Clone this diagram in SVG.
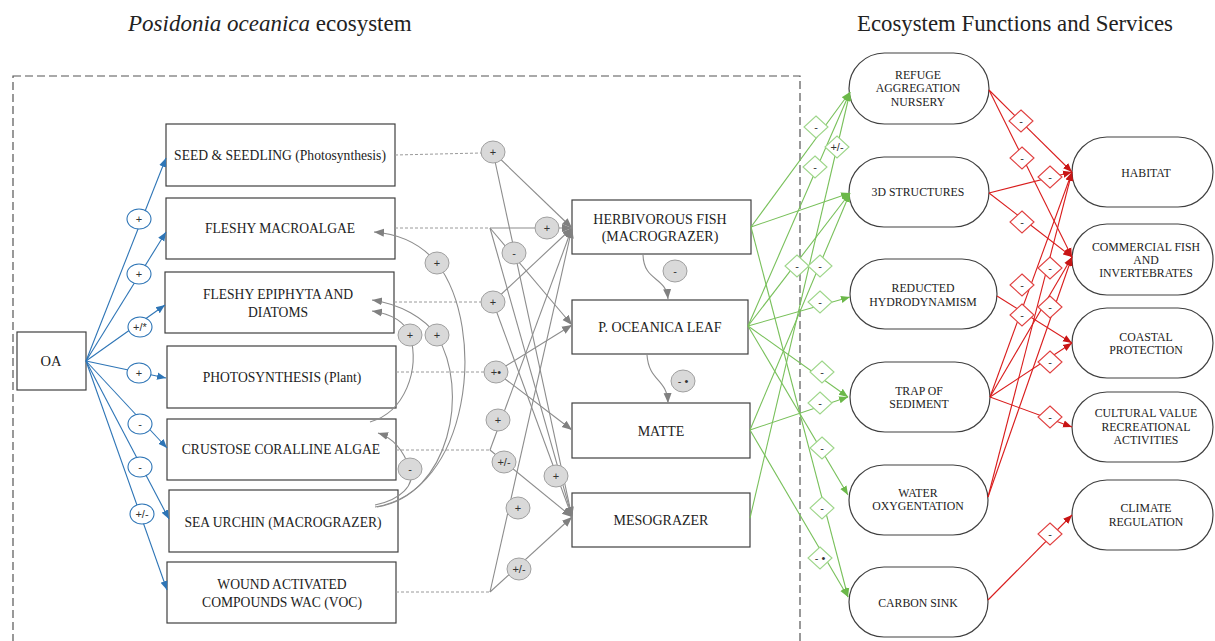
<svg xmlns="http://www.w3.org/2000/svg" xmlns:xlink="http://www.w3.org/1999/xlink" width="1215" height="641" viewBox="0 0 1215 641">
<style>
.t{font-family:"Liberation Serif","Times New Roman",serif;fill:#222;text-anchor:middle}
.lb{font-size:13.6px}
.mb{font-size:14px}
.sb{font-size:11.8px}
.box{fill:#fff;stroke:#404040;stroke-width:1.2}
.st{fill:#fff;stroke:#404040;stroke-width:1.2}
.bl{stroke:#2e75b6;stroke-width:1.1;fill:none}
.bc{fill:#fff;stroke:#2e75b6;stroke-width:1.1}
.gl{stroke:#8c8c8c;stroke-width:1.1;fill:none}
.gd{stroke:#9a9a9a;stroke-width:1;stroke-dasharray:3 2;fill:none}
.gc{fill:#d9d9d9;stroke:#a0a0a0;stroke-width:1}
.grl{stroke:#78c05a;stroke-width:1.1;fill:none}
.grd{fill:#fff;stroke:#9ed68a;stroke-width:1.1}
.rl{stroke:#d91c1c;stroke-width:1.1;fill:none}
.rd{fill:#fff;stroke:#e04040;stroke-width:1.1}
.s{font-family:"Liberation Sans",Arial,sans-serif;font-size:11px;fill:#333;text-anchor:middle}
</style>
<defs>
<marker id="mb" viewBox="0 0 10 10" refX="10" refY="5" markerWidth="9" markerHeight="9" orient="auto" markerUnits="userSpaceOnUse"><path d="M0,1 L10,5 L0,9 z" fill="#2e75b6"/></marker>
<marker id="mg" viewBox="0 0 10 10" refX="10" refY="5" markerWidth="10" markerHeight="10" orient="auto" markerUnits="userSpaceOnUse"><path d="M0,1 L10,5 L0,9 z" fill="#808080"/></marker>
<marker id="mgr" viewBox="0 0 10 10" refX="10" refY="5" markerWidth="9" markerHeight="9" orient="auto" markerUnits="userSpaceOnUse"><path d="M0,1 L10,5 L0,9 z" fill="#6cb84a"/></marker>
<marker id="mr" viewBox="0 0 10 10" refX="10" refY="5" markerWidth="9" markerHeight="9" orient="auto" markerUnits="userSpaceOnUse"><path d="M0,1 L10,5 L0,9 z" fill="#c81414"/></marker>
<polygon id="dia" points="0,-11 12,0 0,11 -12,0"/>
</defs>
<rect width="1215" height="641" fill="#fff"/>

<text class="t" x="128" y="31" font-size="23" style="text-anchor:start"><tspan font-style="italic">Posidonia oceanica</tspan> ecosystem</text>
<text class="t" x="857" y="31" font-size="22.8" style="text-anchor:start">Ecosystem Functions and Services</text>

<rect x="13" y="76" width="787" height="600" fill="none" stroke="#555" stroke-width="1.2" stroke-dasharray="8 4"/>

<g id="oa"><rect class="box" x="17" y="332" width="69" height="58"/><text class="t" x="51" y="366" font-size="14.5">OA</text></g>
<g id="seed"><rect class="box" x="166" y="124" width="229" height="62"/><text class="t lb" x="280" y="160">SEED &amp; SEEDLING (Photosynthesis)</text></g>
<g id="macroalgae"><rect class="box" x="166" y="198" width="229" height="61"/><text class="t lb" x="280" y="233">FLESHY MACROALGAE</text></g>
<g id="epiphyta"><rect class="box" x="165" y="272" width="229" height="61"/><text class="t lb" x="278" y="299">FLESHY EPIPHYTA AND</text><text class="t lb" x="278" y="317">DIATOMS</text></g>
<g id="photosynthesis"><rect class="box" x="167" y="346" width="229" height="62"/><text class="t lb" x="282" y="382">PHOTOSYNTHESIS  (Plant)</text></g>
<g id="crustose"><rect class="box" x="167" y="419" width="229" height="61"/><text class="t lb" x="281" y="454">CRUSTOSE CORALLINE ALGAE</text></g>
<g id="seaurchin"><rect class="box" x="169" y="490" width="229" height="62"/><text class="t lb" x="283" y="527">SEA URCHIN (MACROGRAZER)</text></g>
<g id="wac"><rect class="box" x="167" y="562" width="229" height="61"/><text class="t lb" x="282" y="589">WOUND ACTIVATED</text><text class="t lb" x="282" y="607">COMPOUNDS WAC (VOC)</text></g>

<g id="herbivorous"><rect class="box" x="572" y="200" width="179" height="54"/><text class="t mb" x="660" y="224">HERBIVOROUS FISH</text><text class="t mb" x="660" y="241">(MACROGRAZER)</text></g>
<g id="leaf"><rect class="box" x="572" y="300" width="176" height="54"/><text class="t mb" x="660" y="332">P. OCEANICA LEAF</text></g>
<g id="matte"><rect class="box" x="572" y="403" width="178" height="55"/><text class="t mb" x="661" y="436">MATTE</text></g>
<g id="mesograzer"><rect class="box" x="572" y="493" width="178" height="54"/><text class="t mb" x="661" y="525">MESOGRAZER</text></g>

<g id="refuge"><rect class="st" x="849" y="53" width="140" height="71" rx="35.5"/><text class="t sb" x="918" y="79">REFUGE</text><text class="t sb" x="918" y="92">AGGREGATION</text><text class="t sb" x="918" y="106">NURSERY</text></g>
<g id="structures"><rect class="st" x="849" y="157" width="140" height="70" rx="35"/><text class="t sb" x="918" y="196">3D STRUCTURES</text></g>
<g id="hydro"><rect class="st" x="850" y="259" width="147" height="70" rx="35"/><text class="t sb" x="923" y="292">REDUCTED</text><text class="t sb" x="923" y="306">HYDRODYNAMISM</text></g>
<g id="trap"><rect class="st" x="850" y="362" width="140" height="70" rx="35"/><text class="t sb" x="919" y="395">TRAP OF</text><text class="t sb" x="919" y="408">SEDIMENT</text></g>
<g id="water"><rect class="st" x="849" y="465" width="139" height="70" rx="35"/><text class="t sb" x="918" y="497">WATER</text><text class="t sb" x="918" y="510">OXYGENTATION</text></g>
<g id="carbon"><rect class="st" x="849" y="567" width="139" height="70" rx="35"/><text class="t sb" x="918" y="607">CARBON SINK</text></g>

<g id="habitat"><rect class="st" x="1072" y="137" width="141" height="70" rx="35"/><text class="t sb" x="1146" y="177">HABITAT</text></g>
<g id="commercial"><rect class="st" x="1072" y="224" width="141" height="71" rx="35"/><text class="t sb" x="1146" y="251">COMMERCIAL FISH</text><text class="t sb" x="1146" y="264">AND</text><text class="t sb" x="1146" y="277">INVERTEBRATES</text></g>
<g id="coastal"><rect class="st" x="1072" y="308" width="141" height="70" rx="35"/><text class="t sb" x="1146" y="341">COASTAL</text><text class="t sb" x="1146" y="354">PROTECTION</text></g>
<g id="cultural"><rect class="st" x="1072" y="392" width="141" height="70" rx="35"/><text class="t sb" x="1146" y="417">CULTURAL VALUE</text><text class="t sb" x="1146" y="431">RECREATIONAL</text><text class="t sb" x="1146" y="444">ACTIVITIES</text></g>
<g id="climate"><rect class="st" x="1072" y="480" width="141" height="70" rx="35"/><text class="t sb" x="1146" y="512">CLIMATE</text><text class="t sb" x="1146" y="526">REGULATION</text></g>

<g id="connectors">
 <g id="blue">
  <line class="bl" x1="86" y1="361" x2="166" y2="158" marker-end="url(#mb)"/>
  <line class="bl" x1="86" y1="361" x2="166" y2="232" marker-end="url(#mb)"/>
  <line class="bl" x1="86" y1="361" x2="165" y2="305" marker-end="url(#mb)"/>
  <line class="bl" x1="86" y1="361" x2="166" y2="378" marker-end="url(#mb)"/>
  <line class="bl" x1="86" y1="361" x2="167" y2="448" marker-end="url(#mb)"/>
  <line class="bl" x1="86" y1="361" x2="169" y2="519" marker-end="url(#mb)"/>
  <line class="bl" x1="86" y1="361" x2="167" y2="590" marker-end="url(#mb)"/>
  <ellipse class="bc" cx="139" cy="219" rx="12" ry="10"/><text class="s" x="139" y="223">+</text>
  <ellipse class="bc" cx="139" cy="274" rx="12" ry="10"/><text class="s" x="139" y="278">+</text>
  <ellipse class="bc" cx="140" cy="327" rx="12" ry="10"/><text class="s" x="140" y="331" font-size="9">+/*</text>
  <ellipse class="bc" cx="139" cy="373" rx="12" ry="10"/><text class="s" x="139" y="377">+</text>
  <ellipse class="bc" cx="140" cy="424" rx="12" ry="10"/><text class="s" x="140" y="428">-</text>
  <ellipse class="bc" cx="140" cy="467" rx="12" ry="10"/><text class="s" x="140" y="471">-</text>
  <ellipse class="bc" cx="142" cy="514" rx="12" ry="10"/><text class="s" x="142" y="518" font-size="9">+/-</text>
 </g>
 <g id="gray">
  <line class="gd" x1="395" y1="155" x2="481" y2="153"/>
  <line class="gd" x1="395" y1="228" x2="490" y2="228"/>
  <line class="gd" x1="394" y1="302" x2="481" y2="302"/>
  <line class="gd" x1="396" y1="372" x2="484" y2="372"/>
  <line class="gd" x1="396" y1="450" x2="490" y2="450"/>
  <line class="gd" x1="396" y1="592" x2="490" y2="592"/>
  <line class="gl" x1="493" y1="152" x2="572" y2="228" marker-end="url(#mg)"/>
  <line class="gl" x1="493" y1="152" x2="572" y2="517" marker-end="url(#mg)"/>
  <line class="gl" x1="490" y1="228" x2="572" y2="228" marker-end="url(#mg)"/>
  <line class="gl" x1="490" y1="228" x2="572" y2="325" marker-end="url(#mg)"/>
  <line class="gl" x1="490" y1="228" x2="572" y2="517" marker-end="url(#mg)"/>
  <line class="gl" x1="493" y1="302" x2="572" y2="228" marker-end="url(#mg)"/>
  <line class="gl" x1="493" y1="302" x2="572" y2="517" marker-end="url(#mg)"/>
  <line class="gl" x1="496" y1="372" x2="572" y2="325" marker-end="url(#mg)"/>
  <line class="gl" x1="496" y1="372" x2="572" y2="430" marker-end="url(#mg)"/>
  <line class="gl" x1="490" y1="450" x2="572" y2="228" marker-end="url(#mg)"/>
  <line class="gl" x1="490" y1="450" x2="572" y2="517" marker-end="url(#mg)"/>
  <line class="gl" x1="490" y1="592" x2="572" y2="228" marker-end="url(#mg)"/>
  <line class="gl" x1="490" y1="592" x2="572" y2="517" marker-end="url(#mg)"/>
  <path class="gl" d="M375,507 C470,492 488,330 437,263 C422,245 400,234 374,232" marker-end="url(#mg)"/>
  <path class="gl" d="M377,507 C450,495 470,390 437,336 C425,318 400,304 372,300" marker-end="url(#mg)"/>
  <path class="gl" d="M370,422 C405,412 420,370 410,335 C405,322 392,314 372,311" marker-end="url(#mg)"/>
  <path class="gl" d="M375,505 C400,500 416,485 410,469 C404,452 394,438 378,433" marker-end="url(#mg)"/>
  <path class="gl" d="M643,255 C644,282 666,276 668,299" marker-end="url(#mg)"/>
  <path class="gl" d="M647,355 C649,382 667,378 668,403" marker-end="url(#mg)"/>
  <ellipse class="gc" cx="493" cy="152" rx="12" ry="11"/><text class="s" x="493" y="156">+</text>
  <ellipse class="gc" cx="547" cy="228" rx="12" ry="11"/><text class="s" x="547" y="232">+</text>
  <ellipse class="gc" cx="514" cy="253" rx="12" ry="11"/><text class="s" x="514" y="257">-</text>
  <ellipse class="gc" cx="437" cy="263" rx="12" ry="11"/><text class="s" x="437" y="267">+</text>
  <ellipse class="gc" cx="493" cy="302" rx="12" ry="11"/><text class="s" x="493" y="306">+</text>
  <ellipse class="gc" cx="410" cy="335" rx="12" ry="11"/><text class="s" x="410" y="339">+</text>
  <ellipse class="gc" cx="437" cy="335" rx="12" ry="11"/><text class="s" x="437" y="339">+</text>
  <ellipse class="gc" cx="496" cy="372" rx="12" ry="11"/><text class="s" x="496" y="376" font-size="9">+•</text>
  <ellipse class="gc" cx="498" cy="420" rx="12" ry="11"/><text class="s" x="498" y="424">+</text>
  <ellipse class="gc" cx="504" cy="462" rx="12" ry="11"/><text class="s" x="504" y="466" font-size="9">+/-</text>
  <ellipse class="gc" cx="410" cy="469" rx="12" ry="11"/><text class="s" x="410" y="473">-</text>
  <ellipse class="gc" cx="556" cy="476" rx="12" ry="11"/><text class="s" x="556" y="480">+</text>
  <ellipse class="gc" cx="518" cy="508" rx="12" ry="11"/><text class="s" x="518" y="512">+</text>
  <ellipse class="gc" cx="519" cy="569" rx="12" ry="11"/><text class="s" x="519" y="573" font-size="9">+/-</text>
  <ellipse class="gc" cx="675" cy="271" rx="12" ry="11"/><text class="s" x="675" y="275">-</text>
  <ellipse class="gc" cx="683" cy="381" rx="12" ry="11"/><text class="s" x="683" y="385">- •</text>
 </g>
 <g id="green">
  <line class="grl" x1="751" y1="227" x2="850" y2="92" marker-end="url(#mgr)"/>
  <line class="grl" x1="751" y1="227" x2="850" y2="193" marker-end="url(#mgr)"/>
  <line class="grl" x1="751" y1="227" x2="848" y2="597" marker-end="url(#mgr)"/>
  <line class="grl" x1="748" y1="326" x2="850" y2="92" marker-end="url(#mgr)"/>
  <line class="grl" x1="748" y1="326" x2="850" y2="193" marker-end="url(#mgr)"/>
  <line class="grl" x1="748" y1="326" x2="850" y2="297" marker-end="url(#mgr)"/>
  <line class="grl" x1="748" y1="326" x2="848" y2="397" marker-end="url(#mgr)"/>
  <line class="grl" x1="748" y1="326" x2="848" y2="495" marker-end="url(#mgr)"/>
  <line class="grl" x1="750" y1="430" x2="850" y2="193" marker-end="url(#mgr)"/>
  <line class="grl" x1="750" y1="430" x2="848" y2="397" marker-end="url(#mgr)"/>
  <line class="grl" x1="750" y1="430" x2="848" y2="597" marker-end="url(#mgr)"/>
  <line class="grl" x1="750" y1="518" x2="850" y2="92" marker-end="url(#mgr)"/>
  <use href="#dia" class="grd" x="816" y="127"/><text class="s" x="816" y="131">-</text>
  <use href="#dia" class="grd" x="837" y="147"/><text class="s" x="837" y="151" font-size="9">+/-</text>
  <use href="#dia" class="grd" x="815" y="167"/><text class="s" x="815" y="171">-</text>
  <use href="#dia" class="grd" x="797" y="266"/><text class="s" x="797" y="270">-</text>
  <use href="#dia" class="grd" x="820" y="266"/><text class="s" x="820" y="270">-</text>
  <use href="#dia" class="grd" x="820" y="302"/><text class="s" x="820" y="306">-</text>
  <use href="#dia" class="grd" x="822" y="372"/><text class="s" x="822" y="376">-</text>
  <use href="#dia" class="grd" x="820" y="403"/><text class="s" x="820" y="407">-</text>
  <use href="#dia" class="grd" x="822" y="448"/><text class="s" x="822" y="452">-</text>
  <use href="#dia" class="grd" x="822" y="508"/><text class="s" x="822" y="512">-</text>
  <use href="#dia" class="grd" x="820" y="558"/><text class="s" x="820" y="562">- •</text>
 </g>
 <g id="red">
  <line class="rl" x1="989" y1="90" x2="1072" y2="172" marker-end="url(#mr)"/>
  <line class="rl" x1="989" y1="90" x2="1072" y2="257" marker-end="url(#mr)"/>
  <line class="rl" x1="989" y1="193" x2="1072" y2="172" marker-end="url(#mr)"/>
  <line class="rl" x1="989" y1="193" x2="1072" y2="257" marker-end="url(#mr)"/>
  <line class="rl" x1="997" y1="296" x2="1072" y2="343" marker-end="url(#mr)"/>
  <line class="rl" x1="990" y1="397" x2="1072" y2="172" marker-end="url(#mr)"/>
  <line class="rl" x1="990" y1="397" x2="1072" y2="257" marker-end="url(#mr)"/>
  <line class="rl" x1="990" y1="397" x2="1072" y2="343" marker-end="url(#mr)"/>
  <line class="rl" x1="990" y1="397" x2="1072" y2="427" marker-end="url(#mr)"/>
  <line class="rl" x1="988" y1="497" x2="1072" y2="172" marker-end="url(#mr)"/>
  <line class="rl" x1="988" y1="497" x2="1072" y2="257" marker-end="url(#mr)"/>
  <line class="rl" x1="988" y1="600" x2="1072" y2="515" marker-end="url(#mr)"/>
  <use href="#dia" class="rd" x="1021" y="121"/><text class="s" x="1021" y="125">-</text>
  <use href="#dia" class="rd" x="1022" y="158"/><text class="s" x="1022" y="162">-</text>
  <use href="#dia" class="rd" x="1050" y="177"/><text class="s" x="1050" y="181">-</text>
  <use href="#dia" class="rd" x="1022" y="222"/><text class="s" x="1022" y="226">-</text>
  <use href="#dia" class="rd" x="1050" y="268"/><text class="s" x="1050" y="272">-</text>
  <use href="#dia" class="rd" x="1022" y="285"/><text class="s" x="1022" y="289">-</text>
  <use href="#dia" class="rd" x="1050" y="307"/><text class="s" x="1050" y="311">-</text>
  <use href="#dia" class="rd" x="1022" y="315"/><text class="s" x="1022" y="319">-</text>
  <use href="#dia" class="rd" x="1050" y="362"/><text class="s" x="1050" y="366">-</text>
  <use href="#dia" class="rd" x="1050" y="417"/><text class="s" x="1050" y="421">-</text>
  <use href="#dia" class="rd" x="1050" y="534"/><text class="s" x="1050" y="538">-</text>
 </g>
</g>
</svg>
